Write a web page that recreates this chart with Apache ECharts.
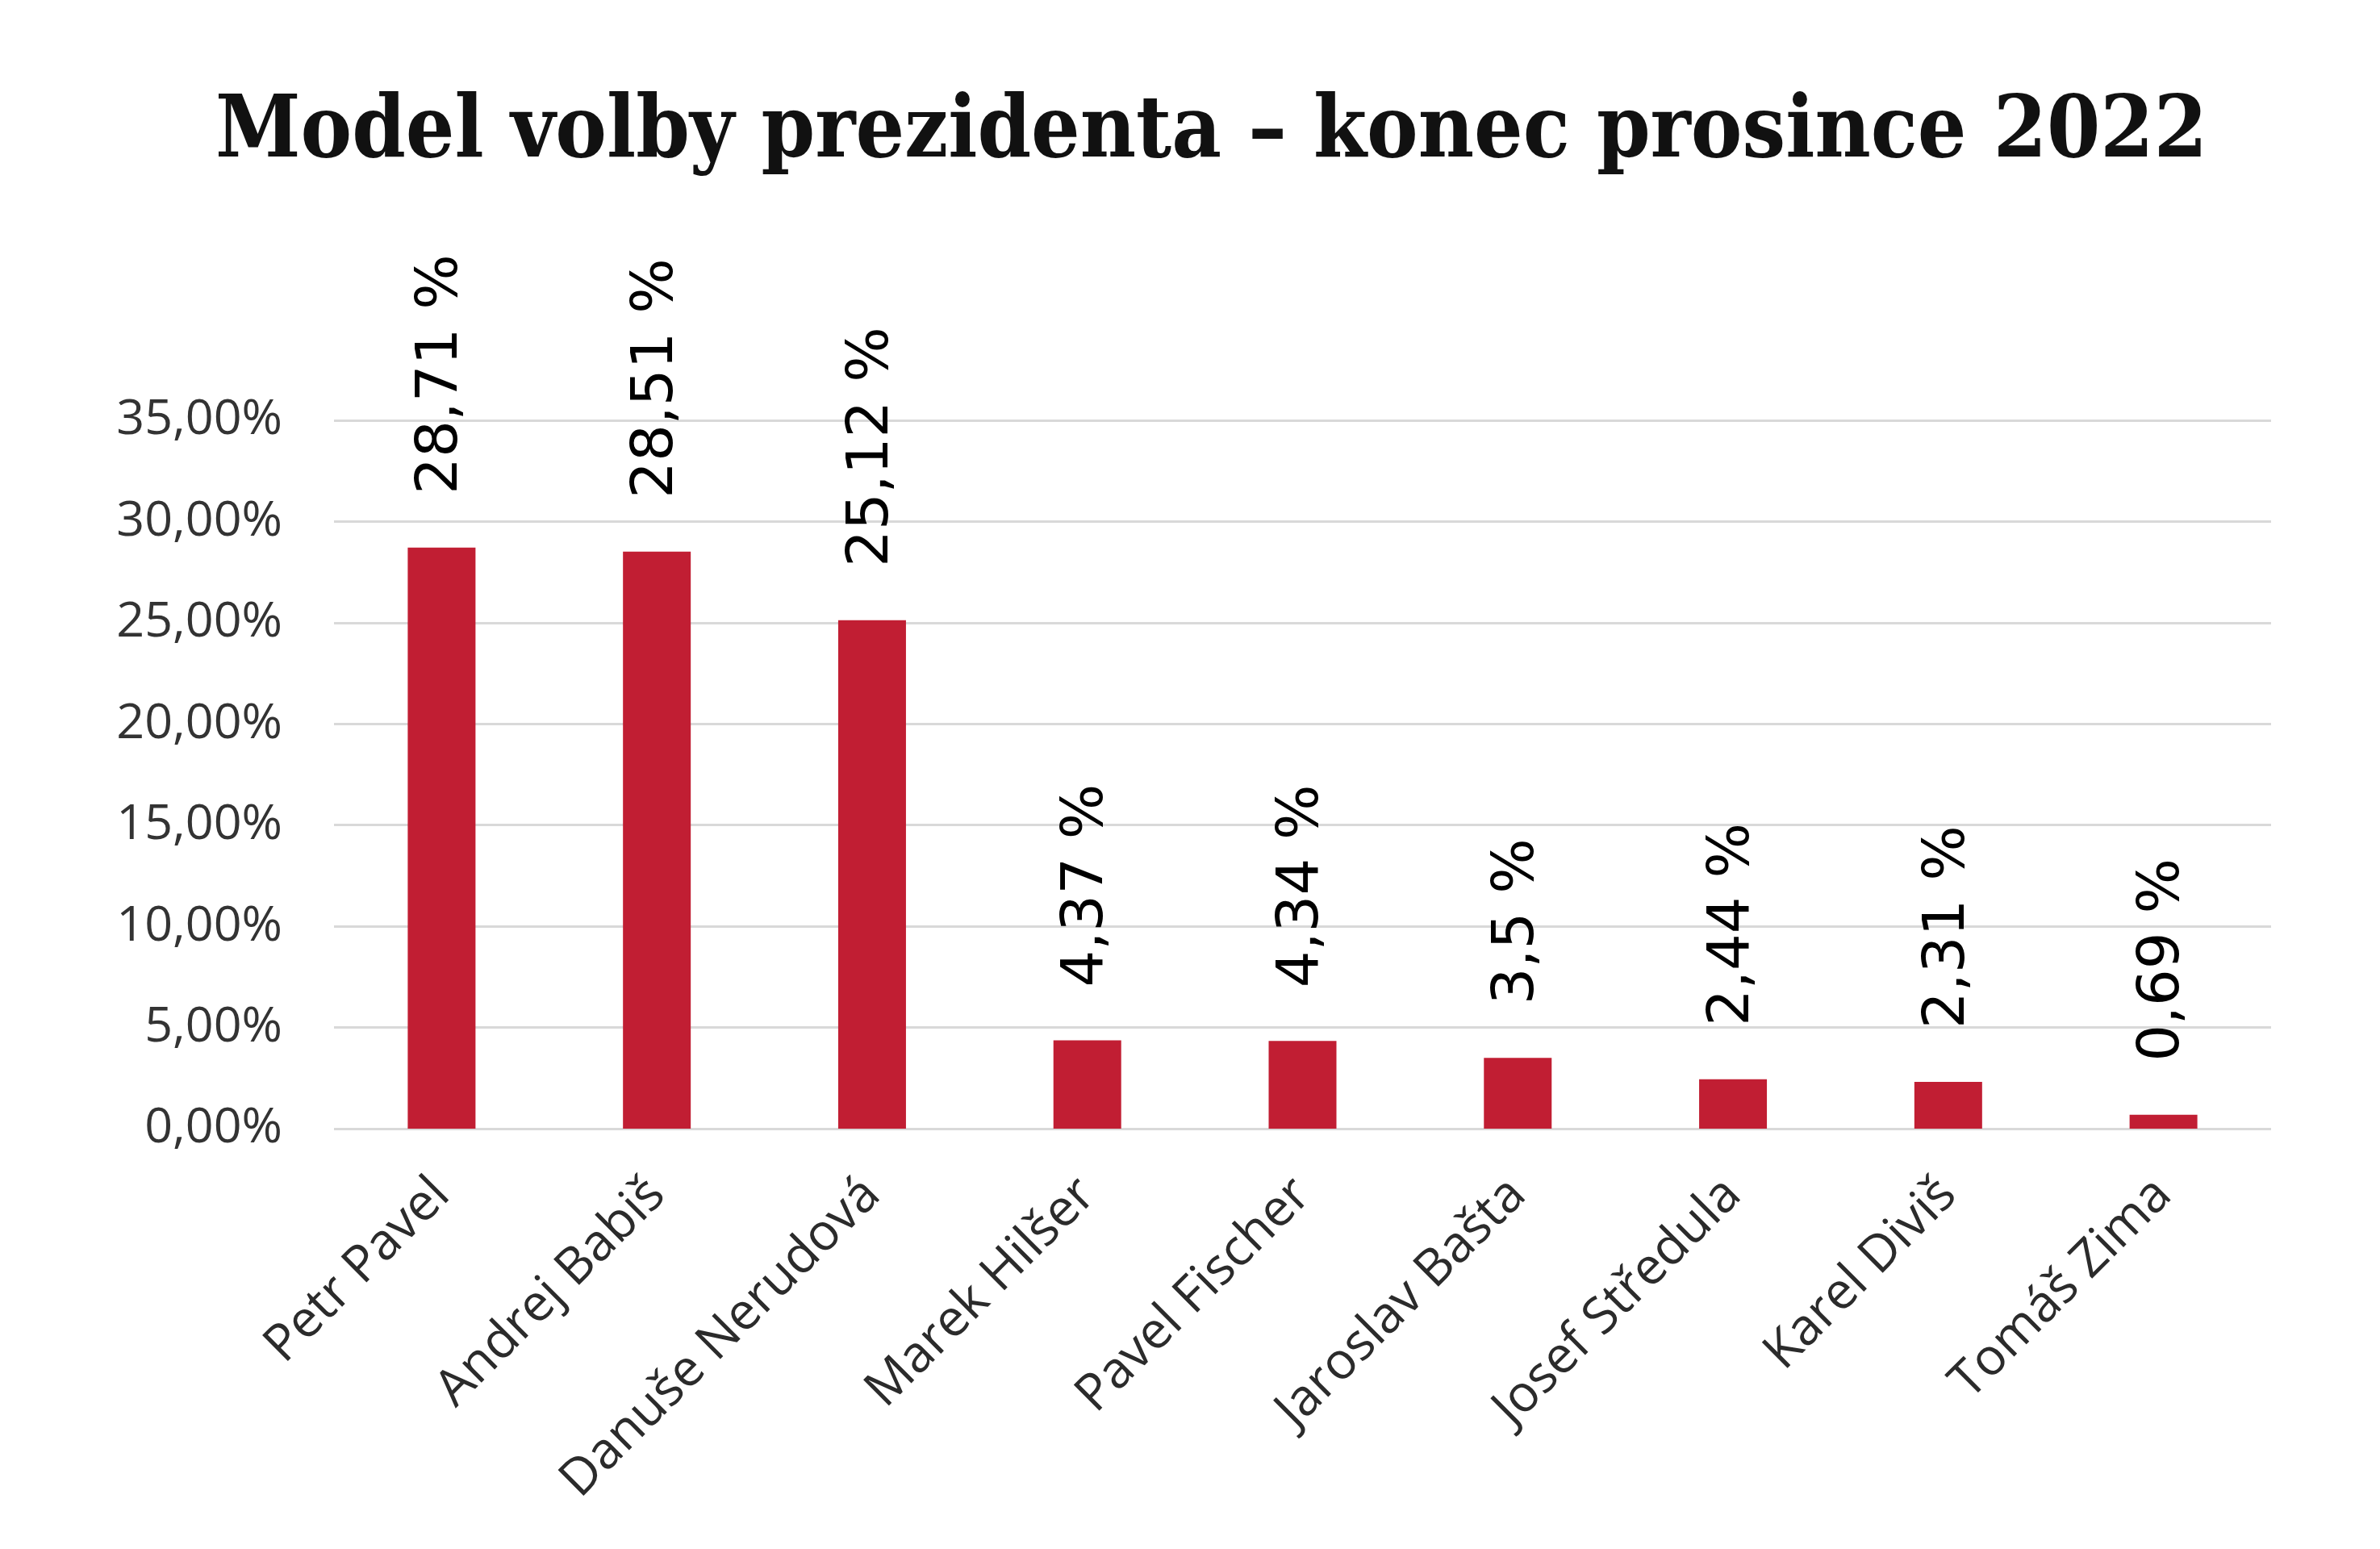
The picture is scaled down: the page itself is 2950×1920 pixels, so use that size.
<!DOCTYPE html>
<html>
<head>
    <meta charset="utf-8">
    <script src="https://cdn.jsdelivr.net/npm/echarts@6/dist/echarts.min.js"></script>
    <style>
        html, body { margin: 0; padding: 0; background: #ffffff; }
    </style>
</head>
<body>
    <div id="main" style="width: 2950px;height:1920px;"></div>
    <script type="text/javascript">
        // kandidati a jejich model
        var candidates = ['Petr Pavel', 'Andrej Babiš', 'Danuše Nerudová', 'Marek Hilšer', 'Pavel Fischer',
                          'Jaroslav Bašta', 'Josef Středula', 'Karel Diviš', 'Tomáš Zima'];
        var shares = [28.71, 28.51, 25.12, 4.37, 4.34, 3.5, 2.44, 2.31, 0.69];
        var yTicks = [0, 5, 10, 15, 20, 25, 30, 35];

        var option = {
            backgroundColor: '#ffffff',
            animation: false,
            title: {
                text: 'Model volby prezidenta – konec prosince 2022',
                left: 262,
                top: 108,
                textStyle: {
                    fontFamily: 'DejaVu Serif Condensed',
                    fontWeight: 'bold',
                    fontSize: 106,
                    color: '#111111'
                }
            },
            grid: {
                left: 414,
                right: 135,
                top: 521,
                bottom: 521
            },
            xAxis: {
                type: 'category',
                data: candidates,
                axisLine: {show: false},
                axisTick: {show: false},
                axisLabel: {
                    interval: 0,
                    rotate: 45,
                    margin: 72,
                    fontFamily: 'Open Sans',
                    fontSize: 63,
                    color: '#2b2b2b'
                }
            },
            yAxis: {
                type: 'value',
                min: yTicks[0],
                max: yTicks[yTicks.length - 1],
                interval: 5,
                axisLine: {show: false},
                axisTick: {show: false},
                splitLine: {
                    lineStyle: {color: '#d9d9d9', width: 3}
                },
                axisLabel: {
                    margin: 64,
                    fontFamily: 'Open Sans',
                    fontSize: 61,
                    color: '#333333',
                    formatter: function (v) {
                        return v.toFixed(2).replace('.', ',') + '%';
                    }
                }
            },
            series: [
                {
                    type: 'bar',
                    data: shares,
                    barWidth: 84,
                    itemStyle: {color: '#c11e33'},
                    label: {
                        show: true,
                        position: 'top',
                        rotate: 90,
                        align: 'left',
                        verticalAlign: 'middle',
                        distance: 66,
                        fontFamily: 'DejaVu Sans',
                        fontSize: 72,
                        color: '#000000',
                        formatter: function (p) {
                            return String(p.value).replace('.', ',') + ' %';
                        }
                    }
                }
            ]
        };

        var myChart = echarts.init(document.getElementById('main'));
        myChart.setOption(option);
    </script>
</body>
</html>
